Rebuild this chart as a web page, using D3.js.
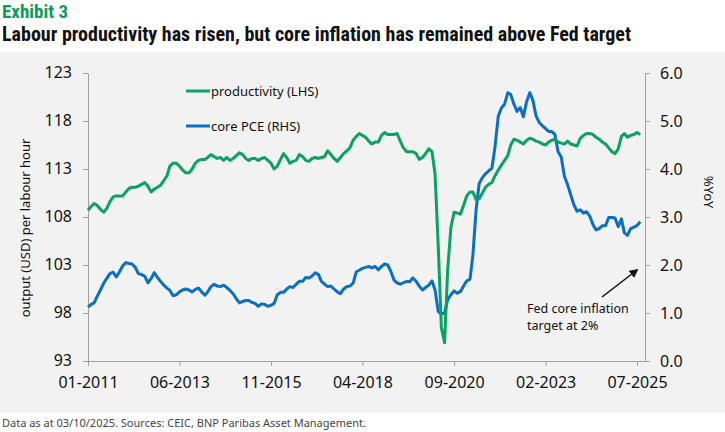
<!DOCTYPE html>
<html>
<head>
<meta charset="utf-8">
<script src="https://cdn.jsdelivr.net/npm/d3@7"></script>
<style>
  body { margin: 0; background: #fff; }
  svg { display: block; }
</style>
</head>
<body>
<div id="chart"></div>
<script>
// chart data, monthly Jan 2011 - Aug 2025
const startMonth = new Date(2011, 0, 1);
const endMonth = new Date(2025, 8, 1); // exclusive
const productivity = [
  108.7, 109.1, 109.4, 109.2, 108.8, 108.5, 108.9, 109.6, 110.1, 110.2, 110.2, 110.2,
  110.6, 111.0, 111.1, 111.1, 111.2, 111.4, 111.6, 111.2, 110.6, 110.9, 111.1, 111.3,
  111.8, 112.3, 113.3, 113.6, 113.6, 113.3, 112.9, 112.6, 112.6, 113.0, 113.6, 113.9,
  114.0, 114.0, 114.2, 114.5, 114.3, 114.1, 114.2, 113.9, 114.2, 113.9, 114.1, 114.4,
  114.7, 114.5, 114.1, 113.9, 114.1, 114.1, 113.9, 114.1, 114.2, 113.9, 113.6, 113.0,
  113.3, 114.0, 114.6, 114.2, 113.6, 113.8, 113.9, 114.5, 114.3, 113.9, 113.8, 114.1,
  114.2, 114.1, 114.2, 114.3, 114.9, 114.5, 114.1, 113.8, 114.2, 114.6, 114.9, 115.2,
  116.0, 116.4, 116.7, 116.5, 116.3, 115.9, 115.6, 115.8, 115.8, 116.5, 116.8, 116.6,
  116.6, 116.6, 116.7, 115.9, 115.2, 114.8, 114.8, 114.8, 114.6, 114.0, 114.2, 114.6,
  115.1, 114.8, 112.5, 105.0, 96.5, 94.9, 102.5, 106.9, 108.5, 108.4, 108.3, 109.2,
  110.2, 110.6, 110.6, 109.8, 109.9, 110.5, 111.1, 111.4, 111.6, 112.3, 112.9, 113.4,
  113.9, 114.4, 115.5, 116.1, 116.0, 115.8, 115.6, 116.0, 116.2, 116.1, 115.9, 115.8,
  115.6, 115.5, 115.8, 116.0, 116.1, 115.8, 115.7, 115.6, 115.9, 115.6, 115.5, 115.4,
  116.2, 116.5, 116.7, 116.7, 116.6, 116.3, 116.1, 115.8, 115.6, 115.2, 114.8, 114.6,
  115.1, 116.4, 116.7, 116.3, 116.5, 116.6, 116.8, 116.6
];
const corePCE = [
  1.12, 1.18, 1.21, 1.35, 1.48, 1.62, 1.72, 1.82, 1.85, 1.75, 1.86, 1.98,
  2.05, 2.03, 2.02, 1.95, 1.82, 1.80, 1.77, 1.63, 1.72, 1.84, 1.74, 1.66,
  1.58, 1.52, 1.47, 1.36, 1.38, 1.44, 1.48, 1.50, 1.48, 1.44, 1.49, 1.52,
  1.44, 1.37, 1.44, 1.55, 1.60, 1.56, 1.55, 1.58, 1.53, 1.47, 1.40, 1.30,
  1.21, 1.24, 1.26, 1.26, 1.22, 1.20, 1.14, 1.19, 1.18, 1.14, 1.16, 1.20,
  1.38, 1.43, 1.43, 1.50, 1.55, 1.53, 1.60, 1.66, 1.66, 1.74, 1.73, 1.77,
  1.84, 1.80, 1.66, 1.60, 1.55, 1.56, 1.50, 1.44, 1.40, 1.50, 1.55, 1.56,
  1.62, 1.86, 1.89, 1.93, 1.95, 1.97, 1.94, 1.97, 1.90, 1.97, 2.02, 2.00,
  1.86, 1.68, 1.63, 1.60, 1.63, 1.66, 1.65, 1.73, 1.66, 1.56, 1.48, 1.53,
  1.58, 1.67, 1.48, 1.03, 0.98, 1.00, 1.28, 1.38, 1.46, 1.41, 1.45, 1.56,
  1.67, 1.70, 2.20, 3.15, 3.70, 3.82, 3.90, 3.96, 4.02, 4.47, 5.10, 5.27,
  5.35, 5.59, 5.55, 5.35, 5.20, 5.28, 5.09, 5.40, 5.59, 5.43, 5.10, 4.97,
  4.90, 4.84, 4.78, 4.78, 4.72, 4.36, 4.25, 3.85, 3.67, 3.46, 3.25, 3.12,
  3.15, 3.08, 3.11, 3.02, 2.85, 2.73, 2.76, 2.82, 2.82, 2.99, 2.99, 2.98,
  2.80, 2.96, 2.67, 2.62, 2.76, 2.79, 2.82, 2.90
];
const xTicks = ['2011-01', '2013-06', '2015-11', '2018-04', '2020-09', '2023-02', '2025-07'];
const leftTicks = [93, 98, 103, 108, 113, 118, 123];
const rightTicks = [0, 1, 2, 3, 4, 5, 6];
const seriesNames = ['productivity (LHS)', 'core PCE (RHS)'];

const width = 725, height = 432;
const green = '#0aa262', blue = '#0a6ec4', axisGrey = '#a0a0a0';
const font = '"Noto Sans", "Open Sans", sans-serif';
const narrow = '"Liberation Sans Narrow", "Roboto Condensed", sans-serif';

const months = d3.timeMonths(startMonth, endMonth);
const parseMonth = d3.timeParse('%Y-%m');

const svg = d3.select('#chart').append('svg')
    .attr('width', width)
    .attr('height', height);

// panel
svg.append('rect')
    .attr('x', 0).attr('y', 52)
    .attr('width', width).attr('height', 361)
    .attr('fill', '#f2f2f2');

// titles
svg.append('text')
    .attr('x', 2).attr('y', 17.5)
    .attr('fill', '#0d9a5d')
    .style('font', 'bold 19px ' + narrow)
    .text('Exhibit 3');
svg.append('text')
    .attr('x', 2).attr('y', 40.5)
    .attr('fill', '#111')
    .style('font', 'bold 20px ' + narrow)
    .text('Labour productivity has risen, but core inflation has remained above Fed target');

svg.append('text')
    .attr('x', 2).attr('y', 427)
    .attr('fill', '#444')
    .style('font', '11px ' + font)
    .text('Data as at 03/10/2025. Sources: CEIC, BNP Paribas Asset Management.');

const x = d3.scaleTime()
    .domain([parseMonth('2011-01'), parseMonth('2025-07')])
    .range([88, 637]);
const yL = d3.scaleLinear().domain([93, 123]).range([361, 73]);
const yR = d3.scaleLinear().domain([0, 6]).range([361, 73]);

// axes
const bottomAxis = d3.axisBottom(x)
    .tickValues(xTicks.map(parseMonth))
    .tickFormat(d3.timeFormat('%m-%Y'))
    .tickSize(5).tickSizeOuter(0);
const gx = svg.append('g')
    .attr('transform', 'translate(0,361)')
    .call(bottomAxis);
gx.select('.domain').attr('d', 'M88,0.5H645');

const gl = svg.append('g')
    .attr('transform', 'translate(88,0)')
    .call(d3.axisLeft(yL).tickValues(leftTicks).tickSize(5).tickSizeOuter(0));

const gr = svg.append('g')
    .attr('transform', 'translate(645,0)')
    .call(d3.axisRight(yR).tickValues(rightTicks).tickFormat(d3.format('.1f')).tickSize(5).tickSizeOuter(0));

[gx, gl, gr].forEach(g => {
    g.selectAll('.domain').attr('stroke', axisGrey);
    g.selectAll('.tick line').attr('stroke', axisGrey);
    g.selectAll('.tick text')
        .attr('fill', '#111')
        .style('font', '16px ' + font);
});
gx.selectAll('.tick text').attr('y', 16).attr('dy', '0.71em');
gl.selectAll('.tick text').attr('x', -16).attr('dy', '0.3em');
gr.selectAll('.tick text').attr('x', 15);

// axis titles
svg.append('text')
    .attr('transform', 'translate(30,228) rotate(-90)')
    .attr('text-anchor', 'middle')
    .attr('fill', '#111')
    .style('font', '13px ' + font)
    .text('output (USD) per labour hour');
svg.append('text')
    .attr('transform', 'translate(704,192) rotate(90)')
    .attr('text-anchor', 'middle')
    .attr('fill', '#111')
    .style('font', '13px ' + font)
    .text('%YoY');

// lines
const lineL = d3.line().x((d, i) => x(months[i])).y(d => yL(d));
const lineR = d3.line().x((d, i) => x(months[i])).y(d => yR(d));

svg.append('path')
    .datum(corePCE)
    .attr('d', lineR)
    .attr('fill', 'none')
    .attr('stroke', blue)
    .attr('stroke-width', 3)
    .attr('stroke-linejoin', 'round');

svg.append('path')
    .datum(productivity)
    .attr('d', lineL)
    .attr('fill', 'none')
    .attr('stroke', green)
    .attr('stroke-width', 3)
    .attr('stroke-linejoin', 'round');

// legend
const legend = svg.append('g').attr('transform', 'translate(186,91)');
seriesNames.forEach((name, i) => {
    const row = legend.append('g').attr('transform', `translate(0,${i * 35})`);
    row.append('line')
        .attr('x1', 0).attr('x2', 24)
        .attr('stroke', i === 0 ? green : blue)
        .attr('stroke-width', 3);
    row.append('text')
        .attr('x', 25).attr('y', 0).attr('dy', '0.35em')
        .attr('fill', '#111')
        .style('font', '13px ' + font)
        .text(name);
});

// annotation
svg.append('defs').append('marker')
    .attr('id', 'arrow')
    .attr('viewBox', '0 0 10 10')
    .attr('refX', 8).attr('refY', 5)
    .attr('markerWidth', 6).attr('markerHeight', 6)
    .attr('orient', 'auto')
    .append('path')
    .attr('d', 'M0,0L10,5L0,10z')
    .attr('fill', '#111');

svg.append('line')
    .attr('x1', 602).attr('y1', 297)
    .attr('x2', 637).attr('y2', 270)
    .attr('stroke', '#111')
    .attr('stroke-width', 1.5)
    .attr('marker-end', 'url(#arrow)');

svg.append('text')
    .attr('x', 527).attr('y', 313)
    .attr('fill', '#111')
    .style('font', '12.5px ' + font)
    .text('Fed core inflation');
svg.append('text')
    .attr('x', 527).attr('y', 330)
    .attr('fill', '#111')
    .style('font', '12.5px ' + font)
    .text('target at 2%');
</script>
</body>
</html>
